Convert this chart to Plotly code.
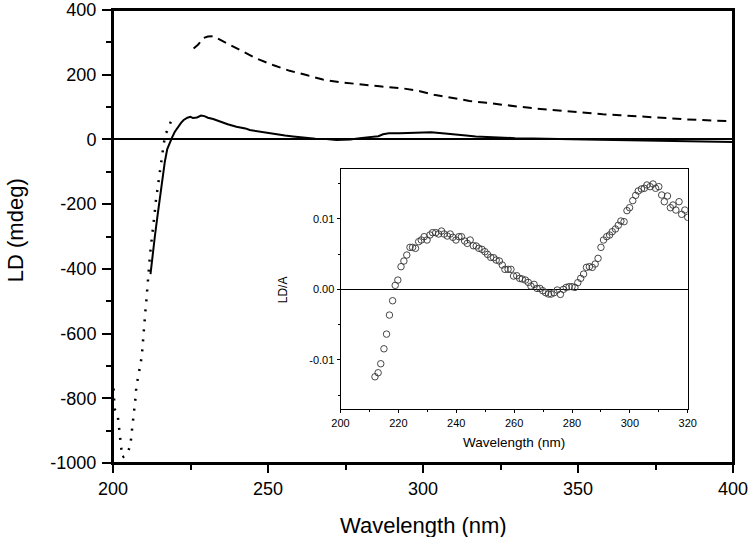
import plotly.graph_objects as go

# ---- main panel data (LD, mdeg) ----
solid_x = [212.1, 212.8, 213.5, 214.3, 215.1, 215.9, 216.7, 217.5, 218.3, 219.0, 219.9, 221.0, 222.0, 222.8,
           224.0, 225.0, 225.8, 227.1, 228.4, 229.5, 230.6, 232.3, 234.0, 235.5, 237.0, 239.8, 242.7, 244.1,
           246.5, 248.4, 250.6, 252.7, 255.5, 258.1, 261.0, 263.5, 265.3, 268.8, 272.1, 274.2, 276.6, 279.6,
           282.2, 285.6, 287.1, 289.0, 292.5, 295.8, 298.9, 302.6, 307.1, 309.7, 313.9, 317.0, 320.5, 324.8,
           329.7, 335.5, 342.0, 346.3, 352.3, 357.0, 363.5, 367.7, 374.9, 378.5, 385.0, 389.2, 395.0, 400.0]
solid_y = [-416, -350, -300, -240, -180, -120, -70, -30, -8, 5, 23, 40, 52, 60,
           67, 70, 66, 68, 74, 72, 67, 63, 57, 51, 47, 39, 34, 29,
           25, 22, 18, 16, 12, 9, 6, 4, 2, 1, -2, -1, 0, 4,
           6, 10, 16, 19, 19, 20, 22, 22, 18, 15, 12, 9, 7, 5,
           4, 3, 1, 0, 0, -1, -2, -3, -3, -4, -5, -6, -7, -8]

dash_x = [226.0, 227.5, 229.0, 230.6, 232.3, 233.5, 235.5, 237.6, 241.9, 246.3, 251.6, 257.0, 262.4, 267.7,
          273.1, 278.5, 286.0, 294.0, 299.0, 304.0, 309.7, 315.0, 320.5, 325.0, 331.2, 336.0, 341.9, 347.0,
          352.7, 358.0, 363.5, 369.0, 374.2, 380.0, 385.0, 390.0, 395.0, 400.0]
dash_y = [281, 293, 313, 318, 319, 313, 305, 295, 271, 250, 230, 212, 199, 185,
          177, 171, 164, 157, 149, 137, 127, 119, 113, 107, 101, 96, 91, 86,
          82, 78, 75, 71, 68, 65, 62, 60, 58, 56]

dot_x = [200.2, 200.5, 201.6, 201.9, 202.2, 202.5, 203.0, 204.3, 205.6, 205.9, 206.3, 206.7, 207.0, 207.3,
         207.5, 208.1, 208.6, 209.2, 209.5, 209.7, 210.0, 210.1, 210.5, 210.8, 211.0, 211.3, 211.6, 211.8,
         212.1, 212.4, 212.7, 213.0, 213.5, 213.8, 214.2, 214.6, 215.1, 215.5, 216.0, 216.4, 217.0, 217.4,
         218.1, 218.7, 219.5, 220.2]
dot_y = [-770, -832, -860, -891, -922, -952, -983, -976, -947, -917, -886, -857, -826, -796,
         -767, -736, -705, -675, -645, -615, -584, -555, -525, -494, -464, -435, -402, -373,
         -342, -311, -283, -252, -222, -192, -162, -131, -102, -72, -41, -12, 19, 25,
         41, 56, 62, 65]

# ---- inset data (LD/A) ----
inset_x = [211.9, 213.0, 213.9, 215.0, 215.9, 216.9, 218.0, 218.9, 219.8, 220.9, 221.9, 222.9, 224.0, 224.9,
           225.9, 227.0, 227.9, 228.9, 229.9, 230.9, 231.8, 232.9, 233.9, 234.9, 235.8, 236.9, 237.9, 238.8,
           239.9, 240.9, 241.8, 242.9, 243.8, 244.8, 245.9, 246.9, 247.8, 248.9, 249.9, 250.8, 251.9, 252.9,
           253.8, 254.9, 255.9, 256.8, 257.9, 258.9, 259.8, 260.9, 261.9, 262.8, 263.9, 264.9, 265.8, 266.9,
           267.9, 268.9, 269.9, 270.9, 271.9, 272.8, 273.8, 274.9, 276.0, 277.0, 278.0, 279.0, 280.0, 281.0,
           282.0, 283.0, 284.0, 285.0, 286.0, 287.0, 288.0, 289.0, 290.0, 290.9, 292.0, 293.0, 293.9, 295.0,
           296.0, 296.9, 298.0, 299.0, 299.9, 301.0, 302.0, 302.9, 304.0, 305.0, 305.9, 307.0, 308.0, 308.9,
           310.0, 311.0, 311.9, 313.0, 314.0, 314.9, 315.9, 317.0, 317.9, 319.0, 320.0]
inset_y = [-0.01239, -0.01182, -0.01054, -0.00842, -0.00634, -0.00364, -0.00161, 0.00057, 0.00132, 0.00322,
           0.00402, 0.00487, 0.00596, 0.00596, 0.00582, 0.00676, 0.00700, 0.00747, 0.00700, 0.00771,
           0.00804, 0.00804, 0.00785, 0.00827, 0.00785, 0.00757, 0.00785, 0.00738, 0.00700, 0.00747,
           0.00747, 0.00686, 0.00652, 0.00700, 0.00619, 0.00615, 0.00582, 0.00567, 0.00534, 0.00496,
           0.00454, 0.00449, 0.00416, 0.00402, 0.00345, 0.00284, 0.00284, 0.00284, 0.00189, 0.00194,
           0.00156, 0.00147, 0.00132, 0.00099, 0.00047, 0.00071, 0.00014, 0.00014, -0.00019, -0.00047,
           -0.00066, -0.00066, -0.00047, -0.00009, -0.00071, 0.00000, 0.00028, 0.00038, 0.00038, 0.00028,
           0.00095, 0.00156, 0.00217, 0.00312, 0.00322, 0.00312, 0.00359, 0.00440, 0.00596, 0.00700,
           0.00747, 0.00771, 0.00818, 0.00856, 0.00908, 0.00969, 0.00960, 0.01116, 0.01158, 0.01258,
           0.01333, 0.01395, 0.01423, 0.01433, 0.01480, 0.01456, 0.01494, 0.01433, 0.01456, 0.01338,
           0.01243, 0.01324, 0.01158, 0.01196, 0.01125, 0.01243, 0.01064, 0.01125, 0.01021]

main_xticks = [200, 250, 300, 350, 400]
main_yticks = [-1000, -800, -600, -400, -200, 0, 200, 400]
main_yticktext = ["-1000", "-800", "-600", "-400", "-200", "0", "200", "400"]
inset_xticks = [200, 220, 240, 260, 280, 300, 320]
inset_yticks = [-0.01, 0.0, 0.01]
inset_yticktext = ["-0.01", "0.00", "0.01"]

FONT = "Liberation Sans, Arial, sans-serif"

fig = go.Figure()
fig.add_trace(go.Scatter(x=dot_x, y=dot_y, mode="lines",
                         line=dict(color="black", width=2.5, dash="2px,8px"), xaxis="x", yaxis="y"))
fig.add_trace(go.Scatter(x=solid_x, y=solid_y, mode="lines",
                         line=dict(color="black", width=2), xaxis="x", yaxis="y"))
fig.add_trace(go.Scatter(x=dash_x, y=dash_y, mode="lines",
                         line=dict(color="black", width=2, dash="9px,6px"), xaxis="x", yaxis="y"))
fig.add_trace(go.Scatter(x=inset_x, y=inset_y, mode="markers",
                         marker=dict(symbol="circle-open", size=6.5, color="#333333",
                                     line=dict(width=0.9, color="#333333")),
                         xaxis="x2", yaxis="y2"))

axis_common = dict(showline=True, linecolor="black", mirror=True, showgrid=False,
                   ticks="outside", tickcolor="black", automargin=False)

fig.update_layout(
    width=750, height=537,
    margin=dict(l=113, r=17, t=10, b=74, pad=0),
    paper_bgcolor="white", plot_bgcolor="white",
    showlegend=False,
    font=dict(family=FONT, color="black"),
    xaxis=dict(**axis_common, range=[200, 400], tickvals=main_xticks, linewidth=2,
               ticklen=8, tickwidth=2, zeroline=False, ticklabeloverflow="allow",
               minor=dict(dtick=25, tick0=200, ticklen=5, tickwidth=2, ticks="outside", tickcolor="black"),
               tickfont=dict(size=18, family=FONT)),
    yaxis=dict(**axis_common, range=[-1000, 400], tickvals=main_yticks, ticktext=main_yticktext,
               linewidth=2, ticklen=9, tickwidth=2, ticklabelstandoff=2, ticklabeloverflow="allow",
               zeroline=True, zerolinecolor="black", zerolinewidth=1.5,
               minor=dict(dtick=100, tick0=0, ticklen=5, tickwidth=2, ticks="outside", tickcolor="black"),
               tickfont=dict(size=18, family=FONT)),
    xaxis2=dict(**axis_common, domain=[0.367, 0.927], anchor="y2", range=[200, 320],
                tickvals=inset_xticks, linewidth=1, ticklen=3, tickwidth=1, zeroline=False,
                minor=dict(dtick=10, tick0=200, ticklen=2, tickwidth=1, ticks="outside", tickcolor="black"),
                tickfont=dict(size=11, family=FONT)),
    yaxis2=dict(**axis_common, domain=[0.1185, 0.648], anchor="x2", range=[-0.017, 0.017],
                tickvals=inset_yticks, ticktext=inset_yticktext, linewidth=1, ticklen=3, tickwidth=1,
                zeroline=True, zerolinecolor="black", zerolinewidth=1,
                minor=dict(dtick=0.005, tick0=0, ticklen=2, tickwidth=1, ticks="outside", tickcolor="black"),
                tickfont=dict(size=11, family=FONT)),
    # frame around the main plotting area
    shapes=[dict(type="rect", xref="paper", yref="paper", x0=0, x1=1, y0=0, y1=1,
                 line=dict(color="black", width=2), fillcolor="rgba(0,0,0,0)", layer="above")],
    annotations=[
        dict(text="LD (mdeg)", xref="paper", yref="paper", x=-0.158, y=0.514,
             xanchor="center", yanchor="middle", textangle=-90, showarrow=False,
             font=dict(size=22, family=FONT, color="black")),
        dict(text="Wavelength (nm)", xref="paper", yref="paper", x=0.5, y=-0.139,
             xanchor="center", yanchor="middle", showarrow=False,
             font=dict(size=22, family=FONT, color="black")),
        dict(text="Wavelength (nm)", xref="x2 domain", yref="y2 domain", x=0.5, y=-0.139,
             xanchor="center", yanchor="middle", showarrow=False,
             font=dict(size=13.5, family=FONT, color="black")),
        dict(text="LD/A", xref="x2 domain", yref="y2 domain", x=-0.166, y=0.5,
             xanchor="center", yanchor="middle", textangle=-90, showarrow=False,
             font=dict(size=12, family=FONT, color="black")),
    ],
)

# remove the browser's default 8px body margin so the 750x537 figure fills the window exactly
fig.write_html("out.html", config={"displayModeBar": False},
               post_script="document.body.style.margin='0';")
